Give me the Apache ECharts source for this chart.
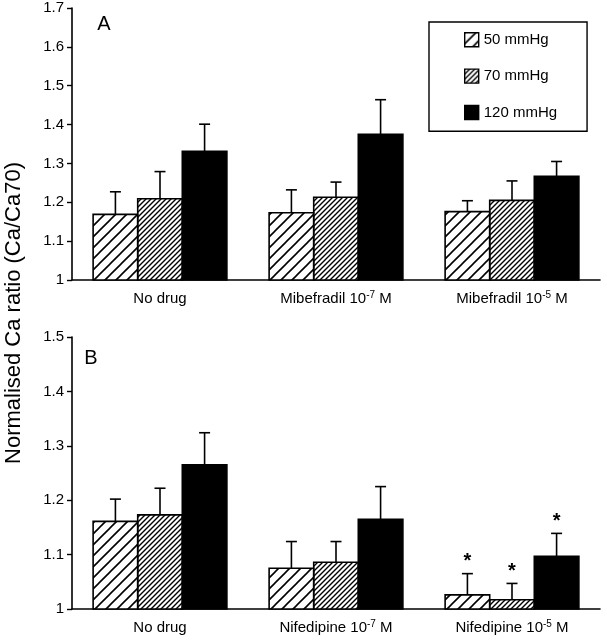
<!DOCTYPE html>
<html><head><meta charset="utf-8">
<script src="https://cdn.jsdelivr.net/npm/echarts@6/dist/echarts.min.js"></script>
<style>html,body{margin:0;padding:0;background:#fff}#c{width:607px;height:640px}</style>
</head><body><div id="c"></div><script>
// ---- data ----
const seriesNames = ['50 mmHg', '70 mmHg', '120 mmHg'];
const catsA = ['No drug', 'Mibefradil 10^-7 M', 'Mibefradil 10^-5 M'];
const catsB = ['No drug', 'Nifedipine 10^-7 M', 'Nifedipine 10^-5 M'];
const ticksA = [1, 1.1, 1.2, 1.3, 1.4, 1.5, 1.6, 1.7];
const ticksB = [1, 1.1, 1.2, 1.3, 1.4, 1.5];
// panel A means and upper error
const A50 = [1.169, 1.173, 1.176];
const A50err = [0.058, 0.059, 0.028];
const A70 = [1.209, 1.213, 1.205];
const A70err = [0.070, 0.039, 0.050];
const A120 = [1.331, 1.375, 1.267];
const A120err = [0.070, 0.089, 0.038];
// panel B
const B50 = [1.161, 1.075, 1.026];
const B50err = [0.041, 0.049, 0.039];
const B70 = [1.173, 1.086, 1.017];
const B70err = [0.049, 0.038, 0.030];
const B120 = [1.265, 1.165, 1.097];
const B120err = [0.059, 0.060, 0.042];
// significance markers (*)
const B50sig = [0, 0, 1];
const B70sig = [0, 0, 1];
const B120sig = [0, 0, 1];

// ---- styles ----
const FONT = 'Liberation Sans, Arial, Helvetica, sans-serif';
function hatch(step, lw) {
  const c = document.createElement('canvas');
  c.width = step; c.height = step;
  const g = c.getContext('2d');
  g.fillStyle = '#fff'; g.fillRect(0, 0, step, step);
  g.strokeStyle = '#000'; g.lineWidth = lw; g.lineCap = 'square';
  g.beginPath();
  g.moveTo(0, step); g.lineTo(step, 0);
  g.moveTo(-2, 2); g.lineTo(2, -2);
  g.moveTo(step - 2, step + 2); g.lineTo(step + 2, step - 2);
  g.stroke();
  return { image: c, repeat: 'repeat' };
}
const fills = [hatch(11, 1.6), hatch(5, 1.4), '#000'];
const BAR_FRAC = 0.76;

function barSeries(k, vals, xi) {
  return {
    name: seriesNames[k], type: 'bar', xAxisIndex: xi, yAxisIndex: xi,
    data: vals, barGap: '0%', barCategoryGap: '24%', silent: true,
    itemStyle: { color: fills[k], borderWidth: 0 }
  };
}
// outline of each bar + upper error bar + significance star
function errSeries(k, vals, errs, sigs, xi, base) {
  return {
    type: 'custom', xAxisIndex: xi, yAxisIndex: xi, z: 5, silent: true,
    data: vals.map((v, i) => [i, v, errs[i], sigs ? sigs[i] : 0]),
    renderItem(params, api) {
      const c = api.value(0), v = api.value(1), e = api.value(2), sig = api.value(3);
      const band = api.size([1, 0])[0];
      const bw = band * BAR_FRAC / 3;
      const pb = api.coord([c, base]);
      const p0 = api.coord([c, v]);
      const p1 = api.coord([c, v + e]);
      const x = p0[0] + (k - 1) * bw;
      const ch = [
        { type: 'rect', shape: { x: x - bw / 2, y: p0[1], width: bw, height: pb[1] - p0[1] },
          style: { fill: 'none', stroke: '#000', lineWidth: 1.6 } },
        { type: 'line', shape: { x1: x, y1: p0[1], x2: x, y2: p1[1] }, style: { stroke: '#000', lineWidth: 1.6 } },
        { type: 'line', shape: { x1: x - 5.5, y1: p1[1], x2: x + 5.5, y2: p1[1] }, style: { stroke: '#000', lineWidth: 1.6 } }
      ];
      if (sig) ch.push({ type: 'text', style: { text: '*', x: x, y: p1[1] - 2, align: 'center', verticalAlign: 'bottom', font: 'bold 20px ' + FONT, fill: '#000' } });
      return { type: 'group', children: ch };
    }
  };
}
function catLabel(s) {
  const m = s.match(/^(.*)\^(\S+)(.*)$/);
  return m ? '{a|' + m[1] + '}{s|' + m[2] + '}{a|' + m[3] + '}' : '{a|' + s + '}';
}
function xAxisOf(cats, gi) {
  return {
    type: 'category', gridIndex: gi, data: cats,
    axisLine: { lineStyle: { color: '#000', width: 1.6 } },
    axisTick: { inside: true, length: 6, lineStyle: { color: '#000', width: 1.4 } },
    axisLabel: {
      interval: 0, margin: 10, formatter: catLabel,
      rich: {
        a: { fontSize: 15, fontFamily: FONT, color: '#000', lineHeight: 18 },
        s: { fontSize: 10, fontFamily: FONT, color: '#000', lineHeight: 10, verticalAlign: 'top' }
      }
    }
  };
}
function yAxisOf(ticks, gi) {
  return {
    type: 'value', gridIndex: gi, min: ticks[0], max: ticks[ticks.length - 1], interval: 0.1,
    splitLine: { show: false },
    axisLine: { show: true, lineStyle: { color: '#000', width: 1.6 } },
    axisTick: { show: true, length: 5, lineStyle: { color: '#000', width: 1.4 } },
    axisLabel: { fontSize: 15, fontFamily: FONT, color: '#000', margin: 8 }
  };
}

const chart = echarts.init(document.getElementById('c'), null, { renderer: 'canvas' });
chart.setOption({
  animation: false,
  backgroundColor: '#fff',
  grid: [
    { left: 72, right: 7, top: 8, height: 272 },
    { left: 72, right: 7, top: 337, height: 272 }
  ],
  xAxis: [xAxisOf(catsA, 0), xAxisOf(catsB, 1)],
  yAxis: [yAxisOf(ticksA, 0), yAxisOf(ticksB, 1)],
  legend: {
    data: seriesNames, orient: 'vertical', left: 429, top: 22, icon: 'rect',
    itemWidth: 14, itemHeight: 14, itemGap: 21,
    padding: [10, 30, 11, 35],
    borderColor: '#000', borderWidth: 1.4,
    itemStyle: { borderColor: '#000', borderWidth: 1.4 },
    textStyle: { fontSize: 15, fontFamily: FONT, color: '#000' },
    selectedMode: false
  },
  graphic: [
    { type: 'text', x: 14, y: 313, rotation: Math.PI / 2,
      style: { text: 'Normalised Ca ratio (Ca/Ca70)', align: 'center', verticalAlign: 'middle', font: '22px ' + FONT, fill: '#000' } },
    { type: 'text', x: 104, y: 24, style: { text: 'A', align: 'center', verticalAlign: 'middle', font: '20px ' + FONT, fill: '#000' } },
    { type: 'text', x: 91, y: 358, style: { text: 'B', align: 'center', verticalAlign: 'middle', font: '20px ' + FONT, fill: '#000' } }
  ],
  series: [
    barSeries(0, A50, 0), barSeries(1, A70, 0), barSeries(2, A120, 0),
    barSeries(0, B50, 1), barSeries(1, B70, 1), barSeries(2, B120, 1),
    errSeries(0, A50, A50err, null, 0, ticksA[0]), errSeries(1, A70, A70err, null, 0, ticksA[0]), errSeries(2, A120, A120err, null, 0, ticksA[0]),
    errSeries(0, B50, B50err, B50sig, 1, ticksB[0]), errSeries(1, B70, B70err, B70sig, 1, ticksB[0]), errSeries(2, B120, B120err, B120sig, 1, ticksB[0])
  ]
});
</script></body></html>
